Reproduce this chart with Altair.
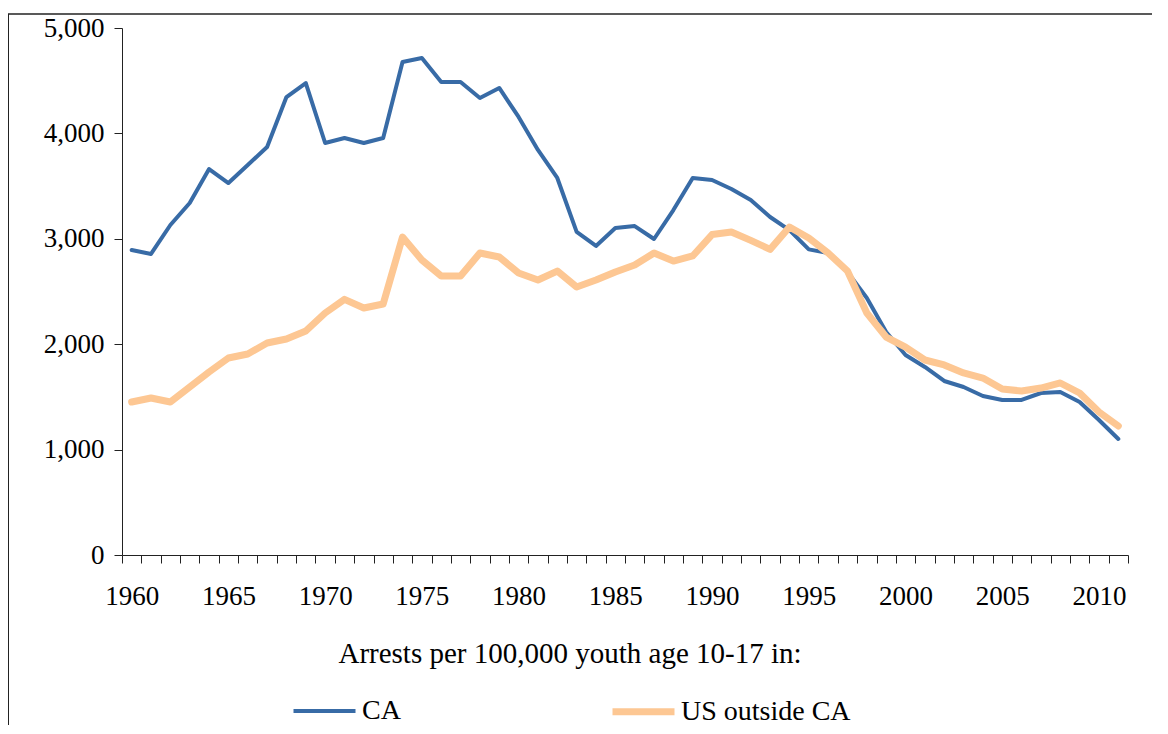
import altair as alt
import pandas as pd

years = list(range(1960, 2012))
ca = [2894, 2856, 3131, 3340, 3662, 3529, 3700, 3871, 4345, 4478,
      3909, 3956, 3909, 3956, 4677, 4715, 4488, 4488, 4336, 4431,
      4156, 3843, 3577, 3065, 2932, 3102, 3121, 2998, 3273, 3577,
      3558, 3472, 3368, 3207, 3083, 2900, 2865, 2685, 2438, 2116,
      1898, 1784, 1651, 1594, 1509, 1471, 1471, 1537, 1547, 1452,
      1281, 1101]
us = [1452, 1490, 1452, 1594, 1736, 1869, 1907, 2011, 2049, 2125,
      2296, 2425, 2343, 2381, 3017, 2799, 2647, 2647, 2865, 2827,
      2676, 2609, 2694, 2543, 2609, 2685, 2751, 2865, 2789, 2837,
      3040, 3065, 2985, 2900, 3112, 3008, 2865, 2694, 2296, 2068,
      1973, 1850, 1803, 1727, 1679, 1575, 1556, 1584, 1632, 1537,
      1357, 1224]
series_names = ["CA", "US outside CA"]
y_ticks = [0, 1000, 2000, 3000, 4000, 5000]
legend_title = "Arrests per 100,000 youth age 10-17 in:"

df = pd.DataFrame({
    "year": years * 2,
    "value": ca + us,
    "series": [series_names[0]] * len(years) + [series_names[1]] * len(years),
})

FONT = "Liberation Serif"
FS = 27
LFS = 28

lines = alt.Chart(df).mark_line(strokeCap="round", strokeJoin="round").encode(
    x=alt.X("year:O", bandPosition=0.5,
            scale=alt.Scale(type="band", paddingInner=0, paddingOuter=0),
            axis=alt.Axis(title=None, labelAngle=0, tickBand="extent",
                          labelExpr="datum.value % 5 == 0 ? datum.label : ''",
                          labelOverlap=False, tickSize=8, labelPadding=20,
                          domainColor="#222", tickColor="#222")),
    y=alt.Y("value:Q", scale=alt.Scale(domain=[0, 5000], nice=False),
            axis=alt.Axis(title=None, values=y_ticks, format=",.0f", grid=False,
                          tickSize=8, labelPadding=10,
                          domainColor="#222", tickColor="#222")),
    color=alt.Color("series:N",
                    scale=alt.Scale(domain=series_names, range=["#386BA6", "#FDC793"]),
                    legend=alt.Legend(title=legend_title)),
    strokeWidth=alt.StrokeWidth("series:N",
                                scale=alt.Scale(domain=series_names, range=[4, 7]),
                                legend=alt.Legend(title=legend_title)),
)

frame_df = pd.DataFrame({"k": [0]})
top_rule = alt.Chart(frame_df).mark_rule(color="#222", strokeWidth=1.5).encode(
    x=alt.value(-114), x2=alt.value(1030), y=alt.value(-14))
left_rule = alt.Chart(frame_df).mark_rule(color="#222", strokeWidth=1).encode(
    x=alt.value(-113.5), y=alt.value(-14), y2=alt.value(800))

chart = alt.layer(top_rule, left_rule, lines).properties(
    width=1006, height=527,
    padding={"left": 114, "top": 20, "right": 24, "bottom": 170},
    autosize=alt.AutoSizeParams(type="none"),
).configure_view(stroke=None).configure_axis(
    labelFont=FONT, labelFontSize=FS, labelColor="black",
).configure_legend(
    orient="none", legendX=168, legendY=612, direction="horizontal",
    columns=2, columnPadding=197, padding=0,
    titleFont=FONT, titleFontSize=29, titleFontWeight="normal", titleColor="black",
    titleAnchor="middle", titlePadding=8, titleLimit=1000,
    labelFont=FONT, labelFontSize=LFS, labelColor="black", labelOffset=3, labelLimit=500,
    symbolType="stroke", symbolSize=3844,
)

chart.save("out.html", embed_options={"renderer": "svg", "actions": False})
